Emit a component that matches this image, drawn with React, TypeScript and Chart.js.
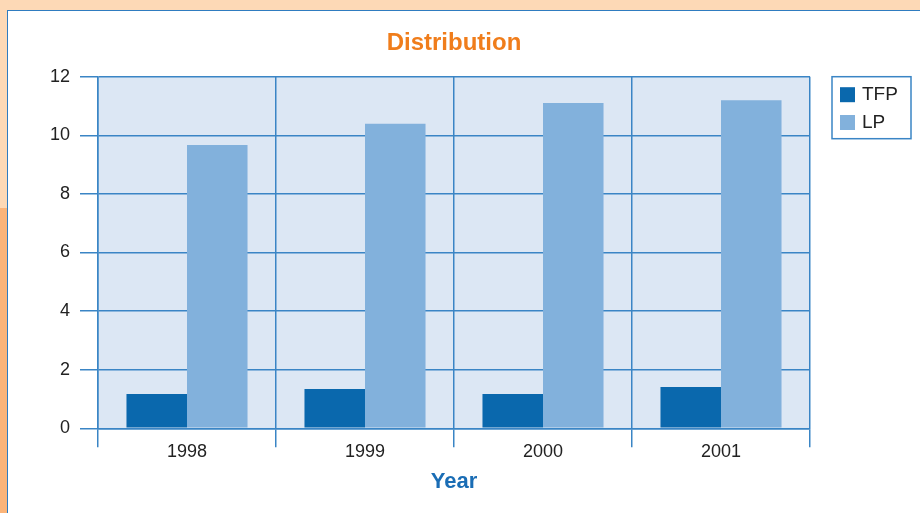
import React, { useEffect, useRef } from "react";
import { Chart, registerables } from "chart.js";

Chart.register(...registerables);

const categories = ["1998", "1999", "2000", "2001"];
const tfpValues = [1.17, 1.34, 1.17, 1.41];
const lpValues = [9.67, 10.39, 11.1, 11.2];
const seriesNames = ["TFP", "LP"];
const yTicks = { min: 0, max: 12, step: 2 };

const FONT = "'Liberation Sans', Arial, Helvetica, sans-serif";
const GRID = "#3a85c5";
const TFP_COLOR = "#0a68ad";
const LP_COLOR = "#82b1dc";
const PLOT_BG = "#dce7f4";

const plotBgPlugin = {
  id: "plotBg",
  beforeDraw(chart: any) {
    const { ctx, chartArea } = chart;
    if (!chartArea) return;
    ctx.save();
    ctx.fillStyle = PLOT_BG;
    ctx.fillRect(chartArea.left, chartArea.top, chartArea.right - chartArea.left, chartArea.bottom - chartArea.top);
    ctx.restore();
  },
};

const boxLegendPlugin = {
  id: "boxLegend",
  afterDraw(chart: any) {
    const { ctx, chartArea } = chart;
    const left = chartArea.right + 22;
    const top = chartArea.top;
    const w = 79;
    const h = 62;
    ctx.save();
    ctx.fillStyle = "#ffffff";
    ctx.fillRect(left, top, w, h);
    ctx.strokeStyle = GRID;
    ctx.lineWidth = 1.5;
    ctx.strokeRect(left, top, w, h);
    ctx.font = `19px ${FONT}`;
    ctx.textBaseline = "middle";
    ctx.textAlign = "left";
    chart.data.datasets.forEach((ds: any, i: number) => {
      const y = top + 10.5 + i * 27.8;
      ctx.fillStyle = ds.backgroundColor;
      ctx.fillRect(left + 8, y, 15, 15);
      ctx.fillStyle = "#222222";
      ctx.fillText(ds.label, left + 30, y + 8);
    });
    ctx.restore();
  },
};

export default function App() {
  const canvasRef = useRef<HTMLCanvasElement | null>(null);

  useEffect(() => {
    if (!canvasRef.current) return;
    const chart = new Chart(canvasRef.current, {
      type: "bar",
      data: {
        labels: categories,
        datasets: [
          { label: seriesNames[0], data: tfpValues, backgroundColor: TFP_COLOR, categoryPercentage: 0.68, barPercentage: 1.0 },
          { label: seriesNames[1], data: lpValues, backgroundColor: LP_COLOR, categoryPercentage: 0.68, barPercentage: 1.0 },
        ],
      },
      options: {
        animation: false,
        responsive: true,
        maintainAspectRatio: false,
        layout: { padding: { left: 0, right: 110, top: 0, bottom: 0 } },
        plugins: {
          legend: { display: false },
          tooltip: { enabled: false },
          title: {
            display: true,
            text: "Distribution",
            color: "#f07d1b",
            fullSize: false,
            font: { family: FONT, size: 24, weight: "bold" },
            padding: { top: 29, bottom: 18.9 },
          },
        },
        scales: {
          x: {
            offset: true,
            grid: { offset: true, color: GRID, lineWidth: 1.5, tickLength: 19, drawTicks: true },
            border: { display: true, color: GRID, width: 1.5 },
            ticks: { color: "#222222", font: { family: FONT, size: 18 }, padding: -6.4, maxRotation: 0 },
            title: {
              display: true,
              text: "Year",
              color: "#1a6db5",
              font: { family: FONT, size: 22, weight: "bold" },
              padding: { top: 0, bottom: 18 },
            },
            afterFit(scale: any) {
              scale.height = 84.7;
            },
          },
          y: {
            min: yTicks.min,
            max: yTicks.max,
            ticks: { stepSize: yTicks.step, color: "#222222", font: { family: FONT, size: 18 }, padding: 10 },
            grid: { color: GRID, lineWidth: 1.5, tickLength: 18, drawTicks: true },
            border: { display: true, color: GRID, width: 1.5 },
            afterFit(scale: any) {
              scale.width = 98;
            },
          },
        },
      },
      plugins: [plotBgPlugin, boxLegendPlugin],
    });
    return () => chart.destroy();
  }, []);

  return (
    <div style={{ position: "fixed", left: 0, top: 0, width: 920, height: 513, background: "#fdd9b6", overflow: "hidden" }}>
      <div style={{ position: "absolute", left: 0, top: 208, width: 7, height: 305, background: "#fbb479" }} />
      <div
        style={{
          position: "absolute",
          left: 7,
          top: 10,
          width: 930,
          height: 520,
          background: "#ffffff",
          borderLeft: "1.5px solid #2f7cc0",
          borderTop: "1.5px solid #2f7cc0",
          boxSizing: "border-box",
        }}
      />
      <div style={{ position: "absolute", left: 0, top: 0, width: 920, height: 513 }}>
        <canvas ref={canvasRef} />
      </div>
    </div>
  );
}
